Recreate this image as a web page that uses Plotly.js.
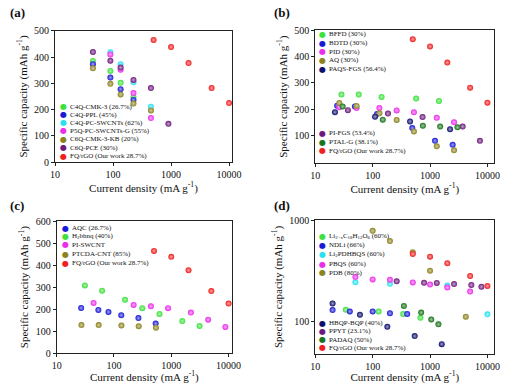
<!DOCTYPE html>
<html><head><meta charset="utf-8">
<script src="https://cdn.plot.ly/plotly-3.0.1.min.js"></script>
<style>html,body{margin:0;padding:0;background:#fff;}#chart{width:532px;height:384px;}</style>
</head><body><div id="chart"></div>
<script>
// ---------- data ----------
// FQ/rGO (our work), same in every panel
const fqX = [500, 1000, 2000, 5000, 10000];
const fqY = [465, 438, 377, 282, 225];
const fqName = 'FQ/rGO (Our work 28.7%)';

// Panel (a)
const aNames = ['C4Q-CMK-3 (26.7%)', 'C4Q-PPL (45%)', 'C4Q-PC-SWCNTs (62%)', 'P5Q-PC-SWCNTs-G (55%)', 'C6Q-CMK-3-KB (20%)', 'C6Q-PCE (30%)'];
const c4qCmkX = [45, 90, 135, 225];            const c4qCmkY = [385, 347, 302, 248];
const c4qPplX = [45, 90, 135, 225];            const c4qPplY = [373, 322, 278, 237];
const c4qSwX = [90, 135, 225, 450];            const c4qSwY = [418, 373, 304, 211];
const p5qX = [90, 135, 225, 450];              const p5qY = [410, 352, 263, 168];
const c6qKbX = [45, 90, 135, 225, 450];        const c6qKbY = [357, 298, 258, 223, 197];
const c6qPceX = [45, 90, 135, 225, 450, 900];  const c6qPceY = [419, 386, 360, 313, 282, 146];

// Panel (b)
const bNamesTop = ['BFFD (30%)', 'BDTD (30%)', 'PID (30%)', 'AQ (30%)', 'PAQS-FGS (56.4%)'];
const bNamesBot = ['PI-FGS (53.4%)', 'PTAL-G (38.1%)'];
const bffdX = [28.6, 57.2, 143, 572, 1430];            const bffdY = [256, 256, 247, 241, 232];
const bdtdX = [24, 49, 119, 490, 1220, 2480];          const bdtdY = [214, 211, 182, 129, 81, 66];
const pidX = [26.2, 52.4, 131, 262, 524, 1310, 2620];  const pidY = [208, 205, 205, 196, 189, 168, 151];
const aqX = [26.2, 52.4, 131, 262, 524, 1310, 2620];   const aqY = [224, 213, 185, 160, 116, 60, 45];
const paqsX = [22, 110, 448, 2233];                    const paqsY = [189, 172, 154, 125];
const pifgsX = [37, 185, 740, 3700, 7400];             const pifgsY = [197, 184, 171, 135, 81];
const ptalX = [30, 150, 750, 1500, 3000];              const ptalY = [211, 161, 138, 135, 132];

// Panel (c)
const cNames = ['AQC (26.7%)', 'H<sub>2</sub>bhnq (40%)', 'PI-SWCNT', 'PTCDA-CNT (85%)'];
const aqcX = [26.7, 53.4, 80, 134, 267, 534];               const aqcY = [205, 196, 187, 172, 159, 134];
const bhnqX = [31, 62, 156, 312, 623, 1560, 3115];          const bhnqY = [308, 284, 243, 204, 178, 146, 123];
const piSwX = [44, 220, 440, 880, 2200, 4400, 8800];        const piSwY = [228, 219, 213, 204, 184, 152, 119];
const ptcdaX = [27, 54, 135, 270, 540];                     const ptcdaY = [127, 127, 125, 122, 115];

// Panel (d)
const dNamesTop = ['Li<sub>2+x</sub>C<sub>18</sub>H<sub>12</sub>O<sub>6</sub> (60%)', 'NDLi (66%)', 'Li<sub>2</sub>PDHBQS (60%)', 'PBQS (60%)', 'PDB (80%)'];
const dNamesBot = ['HBQP-BQP (40%)', 'PPYT (23.1%)', 'PADAQ (50%)'];
const liX = [34, 127, 340, 680];                        const liY = [131, 126, 119, 109];
const ndliX = [20, 40, 100, 200, 400];                  const ndliY = [130, 126, 126, 121, 119];
const lipX = [50, 200, 2000, 10000];                    const lipY = [245, 236, 227, 118];
const pbqsX = [50, 100, 200, 500, 1000, 2000, 5000];    const pbqsY = [275, 261, 259, 244, 232, 217, 198];
const pdbX = [100, 200, 500, 1000, 4200];               const pdbY = [787, 624, 483, 318, 112];
const hbqpX = [20, 60, 180, 540, 1600];                 const hbqpY = [151, 117, 89, 72, 60];
const ppytX = [262, 786, 1310, 2620, 5240, 7860];       const ppytY = [250, 242, 241, 235, 230, 221];
const padaqX = [350, 700, 1050, 1400];                  const padaqY = [143, 123, 105, 94];

// ---------- styles ----------
const COL = {
  green: 'rgb(60,225,60)', blue: 'rgb(25,25,215)', cyan: 'rgb(40,225,240)',
  magenta: 'rgb(235,45,235)', olive: 'rgb(140,130,30)', purple: 'rgb(110,25,125)',
  red: 'rgb(240,30,30)', navy: 'rgb(15,15,110)', dkgreen: 'rgb(25,115,25)'
};
function tint(c, f) {
  const m = c.match(/\d+/g).map(Number);
  return 'rgb(' + m.map(v => Math.round(v + (255 - v) * f)).join(',') + ')';
}
const W = 532, H = 384;
const px = x => x / W, py = y => 1 - y / H;

function tr(x, y, name, col, ax) {
  return {
    type: 'scatter', mode: 'markers', x: x, y: y, name: name, showlegend: false,
    xaxis: 'x' + ax, yaxis: 'y' + ax,
    marker: { size: 6, color: col, gradient: { type: 'radial', color: tint(col, 0.6) }, line: { width: 0 } }
  };
}

const data = [
  tr(c4qCmkX, c4qCmkY, aNames[0], COL.green, ''),
  tr(c4qPplX, c4qPplY, aNames[1], COL.blue, ''),
  tr(c4qSwX, c4qSwY, aNames[2], COL.cyan, ''),
  tr(p5qX, p5qY, aNames[3], COL.magenta, ''),
  tr(c6qKbX, c6qKbY, aNames[4], COL.olive, ''),
  tr(c6qPceX, c6qPceY, aNames[5], COL.purple, ''),
  tr(fqX, fqY, fqName, COL.red, ''),

  tr(bffdX, bffdY, bNamesTop[0], COL.green, '2'),
  tr(bdtdX, bdtdY, bNamesTop[1], COL.blue, '2'),
  tr(pidX, pidY, bNamesTop[2], COL.magenta, '2'),
  tr(aqX, aqY, bNamesTop[3], COL.olive, '2'),
  tr(paqsX, paqsY, bNamesTop[4], COL.navy, '2'),
  tr(pifgsX, pifgsY, bNamesBot[0], COL.purple, '2'),
  tr(ptalX, ptalY, bNamesBot[1], COL.dkgreen, '2'),
  tr(fqX, fqY, fqName, COL.red, '2'),

  tr(aqcX, aqcY, cNames[0], COL.blue, '3'),
  tr(bhnqX, bhnqY, cNames[1], COL.green, '3'),
  tr(piSwX, piSwY, cNames[2], COL.magenta, '3'),
  tr(ptcdaX, ptcdaY, cNames[3], COL.olive, '3'),
  tr(fqX, fqY, fqName, COL.red, '3'),

  tr(liX, liY, dNamesTop[0], COL.green, '4'),
  tr(ndliX, ndliY, dNamesTop[1], COL.blue, '4'),
  tr(lipX, lipY, dNamesTop[2], COL.cyan, '4'),
  tr(pbqsX, pbqsY, dNamesTop[3], COL.magenta, '4'),
  tr(pdbX, pdbY, dNamesTop[4], COL.olive, '4'),
  tr(hbqpX, hbqpY, dNamesBot[0], COL.navy, '4'),
  tr(ppytX, ppytY, dNamesBot[1], COL.purple, '4'),
  tr(padaqX, padaqY, dNamesBot[2], COL.dkgreen, '4'),
  tr(fqX, fqY, fqName, COL.red, '4')
];

const FONT = 'Liberation Serif, Times New Roman, serif';
const xTicks = [10, 100, 1000, 10000];
function xax(dom, rng, anchor, so) {
  return {
    type: 'log', domain: dom, range: rng, anchor: anchor,
    tickvals: xTicks, ticktext: xTicks.map(String),
    ticks: 'outside', ticklen: 3, tickcolor: '#222', showgrid: false, zeroline: false,
    showline: true, mirror: true, linecolor: '#222', linewidth: 1,
    tickfont: { family: FONT, size: 10, color: '#111' },
    title: { text: 'Current density (mA g<sup>-1</sup>)', font: { family: FONT, size: 11, color: '#111' }, standoff: so }
  };
}
function yax(dom, rng, anchor, tv, isLog) {
  return {
    type: isLog ? 'log' : 'linear', domain: dom, range: rng, anchor: anchor,
    tickvals: tv, ticktext: tv.map(String),
    ticks: 'outside', ticklen: 3, tickcolor: '#222', showgrid: false, zeroline: false,
    showline: true, mirror: true, linecolor: '#222', linewidth: 1,
    tickfont: { family: FONT, size: 10, color: '#111' },
    title: { text: 'Specific capacity (mAh g<sup>-1</sup>)', font: { family: FONT, size: 11, color: '#111' }, standoff: 4 }
  };
}

const domAx = [px(55), px(232)], domBx = [px(315.3), px(494.3)];
const domCx = [px(56.7), px(232)], domDx = [px(315.3), px(494.3)];

const layout = {
  width: W, height: H, margin: { l: 0, r: 0, t: 0, b: 0 },
  paper_bgcolor: '#fff', plot_bgcolor: '#fff', showlegend: false,
  font: { family: FONT, color: '#111' },
  xaxis: xax(domAx, [1, 4.05], 'y', 0),
  yaxis: yax([py(162.3), py(30.7)], [0, 500], 'x', [0, 100, 200, 300, 400, 500], false),
  xaxis2: xax(domBx, [1, 4.12], 'y2', 0),
  yaxis2: yax([py(163.3), py(30)], [-4, 500], 'x2', [100, 200, 300, 400, 500], false),
  xaxis3: xax(domCx, [1, 4.06], 'y3', 0),
  yaxis3: yax([py(353), py(221.3)], [0, 600], 'x3', [0, 100, 200, 300, 400, 500, 600], false),
  xaxis4: xax(domDx, [1, 4.12], 'y4', 0),
  yaxis4: yax([py(353.5), py(220.3)], [Math.log10(48.5), 3], 'x4', [100, 1000], true),
  annotations: []
};

// panel labels
[['(a)', 8, 13], ['(b)', 272, 13], ['(c)', 8, 205], ['(d)', 272, 205]].forEach(p => {
  layout.annotations.push({ text: '<b>' + p[0] + '</b>', xref: 'paper', yref: 'paper', x: px(p[1]), y: py(p[2]),
    xanchor: 'left', yanchor: 'middle', showarrow: false, font: { family: FONT, size: 13, color: '#111' } });
});

// hand-placed legend blocks (Plotly legends enforce a 19px row height)
function legendBlock(names, cols, mx, ys) {
  names.forEach((n, i) => {
    layout.annotations.push({ text: '●', xref: 'paper', yref: 'paper', x: px(mx), y: py(ys[i]),
      xanchor: 'center', yanchor: 'middle', showarrow: false,
      font: { family: 'DejaVu Sans', size: 8, color: cols[i] } });
    layout.annotations.push({ text: n, xref: 'paper', yref: 'paper', x: px(mx + 4.5), y: py(ys[i]),
      xanchor: 'left', yanchor: 'middle', showarrow: false,
      font: { family: FONT, size: 7, color: '#111' } });
  });
}
legendBlock(aNames.concat([fqName]), [COL.green, COL.blue, COL.cyan, COL.magenta, COL.olive, COL.purple, COL.red],
  63.3, [106.7, 114.7, 122.7, 131, 139.3, 147.7, 156]);
legendBlock(bNamesTop, [COL.green, COL.blue, COL.magenta, COL.olive, COL.navy], 322.7, [34.3, 43.3, 51.7, 60, 69]);
legendBlock(bNamesBot.concat([fqName]), [COL.purple, COL.dkgreen, COL.red], 322.7, [133.3, 142.3, 150.7]);
legendBlock(cNames.concat([fqName]), [COL.blue, COL.green, COL.magenta, COL.olive, COL.red], 65, [228, 236.3, 244.7, 254.3, 263]);
legendBlock(dNamesTop, [COL.green, COL.blue, COL.cyan, COL.magenta, COL.olive], 322.7, [236.3, 245.3, 254.3, 264, 272.7]);
legendBlock(dNamesBot.concat([fqName]), [COL.navy, COL.purple, COL.dkgreen, COL.red], 322.7, [323, 331.3, 339.7, 347.7]);

Plotly.newPlot('chart', data, layout, { displayModeBar: false, staticPlot: true });
</script>
</body></html>
